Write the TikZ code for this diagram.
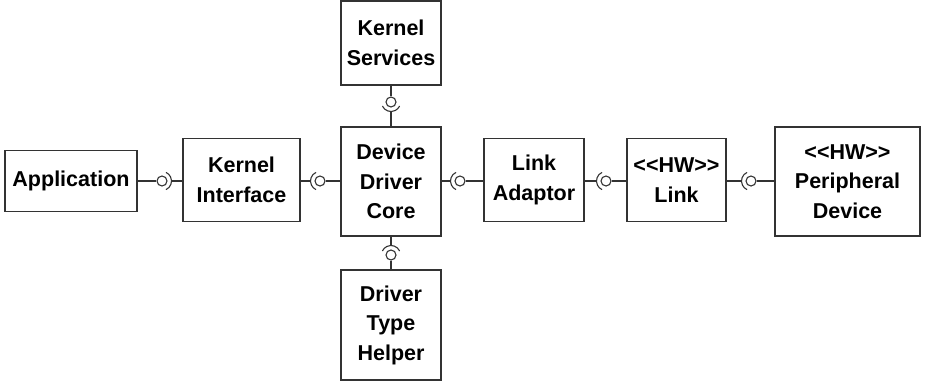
\documentclass[tikz,border=0pt]{standalone}
\usepackage{fontspec}
\setmainfont{Liberation Sans}
\begin{document}
\begin{tikzpicture}[x=1pt,y=-1pt,
  comp/.style={draw=black!80, line width=1.1pt, fill=white, align=center,
    inner sep=0pt, font=\bfseries\fontsize{21.5}{29.5}\selectfont},
  ball/.style={circle, draw=black!80, line width=1.1pt, minimum size=10pt, inner sep=0pt},
  wire/.style={draw=black!80, line width=1.1pt}]
\useasboundingbox (0,0) rectangle (925,381);

% components
\node[comp, minimum width=132pt, minimum height=61pt]  (app) at (71,181)    {Application};
\node[comp, minimum width=117pt, minimum height=83pt]  (ki)  at (241.5,180) {Kernel\\Interface};
\node[comp, minimum width=100pt, minimum height=109pt] (ddc) at (391,181.5) {Device\\Driver\\Core};
\node[comp, minimum width=100pt, minimum height=84pt]  (ks)  at (391,43)    {Kernel\\Services};
\node[comp, minimum width=100pt, minimum height=110pt] (dth) at (391,325)   {Driver\\Type\\Helper};
\node[comp, minimum width=100pt, minimum height=83pt]  (la)  at (534,180)   {Link\\Adaptor};
\node[comp, minimum width=99pt,  minimum height=83pt]  (hwl) at (676.5,180) {<{}<HW>{}>\\Link};
\node[comp, minimum width=145pt, minimum height=109pt] (per) at (847.5,181.5) {<{}<HW>{}>\\Peripheral\\Device};

% provided interfaces (balls)
\node[ball] (b1) at (162,181)   {};
\node[ball] (b2) at (320,181)   {};
\node[ball] (b3) at (391,102)   {};
\node[ball] (b4) at (391,255)   {};
\node[ball] (b5) at (460,181)   {};
\node[ball] (b6) at (606,181)   {};
\node[ball] (b7) at (751,181)   {};

% socket back points
\coordinate (s1) at ([xshift=9.5pt]b1.center);
\coordinate (s2) at ([xshift=-9.5pt]b2.center);
\coordinate (s3) at ([yshift=-9.5pt]b3.center);
\coordinate (s4) at ([yshift=9.5pt]b4.center);
\coordinate (s5) at ([xshift=-9.5pt]b5.center);
\coordinate (s6) at ([xshift=-9.5pt]b6.center);
\coordinate (s7) at ([xshift=-9.5pt]b7.center);

% sockets (required interfaces)
\draw[wire] (b1.center) ++(-65:9.5pt) arc[start angle=-65, end angle=65, radius=9.5pt];
\foreach \b in {b2,b5,b6,b7}
  \draw[wire] (\b.center) ++(115:9.5pt) arc[start angle=115, end angle=245, radius=9.5pt];
\draw[wire] (b3.center) ++(205:9.5pt) arc[start angle=205, end angle=335, radius=9.5pt];
\draw[wire] (b4.center) ++(25:9.5pt) arc[start angle=25, end angle=155, radius=9.5pt];

% wires
\draw[wire] (app.east |- b1) -- (b1.west);
\draw[wire] (s1) -- (ki.west |- s1);
\draw[wire] (ki.east |- s2) -- (s2);
\draw[wire] (b2.east) -- (ddc.west |- b2);
\draw[wire] (ks.south) -- (b3.north);
\draw[wire] (s3) -- (ddc.north);
\draw[wire] (ddc.south) -- (s4);
\draw[wire] (b4.south) -- (dth.north);
\draw[wire] (ddc.east |- s5) -- (s5);
\draw[wire] (b5.east) -- (la.west |- b5);
\draw[wire] (la.east |- s6) -- (s6);
\draw[wire] (b6.east) -- (hwl.west |- b6);
\draw[wire] (hwl.east |- s7) -- (s7);
\draw[wire] (b7.east) -- (per.west |- b7);
\end{tikzpicture}
\end{document}
